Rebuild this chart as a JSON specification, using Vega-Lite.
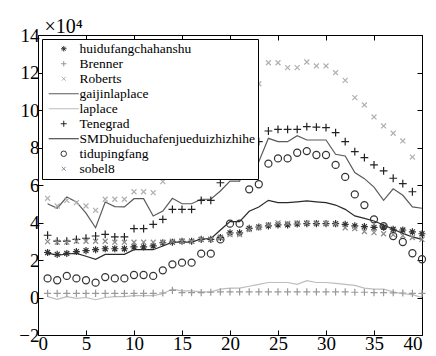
{
  "$schema": "https://vega.github.io/schema/vega-lite/v6.json",
  "autosize": "none",
  "width": 384,
  "height": 300,
  "padding": {"left": 38, "top": 35, "right": 14, "bottom": 21},
  "background": "white",
  "config": {
    "view": {"stroke": "black", "strokeWidth": 1},
    "axis": {
      "labelFont": "Times New Roman", "labelFontSize": 19, "labelColor": "black",
      "tickColor": "black", "tickSize": -5, "domainColor": "black", "grid": false,
      "titleFont": "Times New Roman", "titleFontWeight": "normal", "titleColor": "black"
    },
    "legend": {
      "orient": "none", "legendX": 4, "legendY": 4,
      "fillColor": "white", "strokeColor": "black", "padding": 3,
      "labelFont": "Times New Roman", "labelFontSize": 13.5, "labelColor": "black", "labelLimit": 400,
      "symbolSize": 30, "symbolStrokeWidth": 1, "rowPadding": 0,
      "symbolOffset": 12, "labelOffset": 9
    }
  },
  "datasets": {
    "d": [
      {"s":"huidufangchahanshu","x":1,"y":2.4},{"s":"huidufangchahanshu","x":2,"y":2.3},{"s":"huidufangchahanshu","x":3,"y":2.35},{"s":"huidufangchahanshu","x":4,"y":2.45},{"s":"huidufangchahanshu","x":5,"y":2.5},{"s":"huidufangchahanshu","x":6,"y":2.55},{"s":"huidufangchahanshu","x":7,"y":2.6},{"s":"huidufangchahanshu","x":8,"y":2.6},{"s":"huidufangchahanshu","x":9,"y":2.6},{"s":"huidufangchahanshu","x":10,"y":2.7},
      {"s":"huidufangchahanshu","x":11,"y":2.7},{"s":"huidufangchahanshu","x":12,"y":2.75},{"s":"huidufangchahanshu","x":13,"y":2.92},{"s":"huidufangchahanshu","x":14,"y":2.95},{"s":"huidufangchahanshu","x":15,"y":3.0},{"s":"huidufangchahanshu","x":16,"y":3.0},{"s":"huidufangchahanshu","x":17,"y":3.1},{"s":"huidufangchahanshu","x":18,"y":3.1},{"s":"huidufangchahanshu","x":19,"y":3.2},{"s":"huidufangchahanshu","x":20,"y":3.45},
      {"s":"huidufangchahanshu","x":21,"y":3.45},{"s":"huidufangchahanshu","x":22,"y":3.69},{"s":"huidufangchahanshu","x":23,"y":3.76},{"s":"huidufangchahanshu","x":24,"y":3.82},{"s":"huidufangchahanshu","x":25,"y":3.87},{"s":"huidufangchahanshu","x":26,"y":3.87},{"s":"huidufangchahanshu","x":27,"y":3.92},{"s":"huidufangchahanshu","x":28,"y":3.94},{"s":"huidufangchahanshu","x":29,"y":3.94},{"s":"huidufangchahanshu","x":30,"y":3.94},
      {"s":"huidufangchahanshu","x":31,"y":3.94},{"s":"huidufangchahanshu","x":32,"y":3.9},{"s":"huidufangchahanshu","x":33,"y":3.82},{"s":"huidufangchahanshu","x":34,"y":3.78},{"s":"huidufangchahanshu","x":35,"y":3.74},{"s":"huidufangchahanshu","x":36,"y":3.75},{"s":"huidufangchahanshu","x":37,"y":3.64},{"s":"huidufangchahanshu","x":38,"y":3.6},{"s":"huidufangchahanshu","x":39,"y":3.5},{"s":"huidufangchahanshu","x":40,"y":3.4},

      {"s":"Brenner","x":1,"y":0.22},{"s":"Brenner","x":2,"y":0.22},{"s":"Brenner","x":3,"y":0.22},{"s":"Brenner","x":4,"y":0.22},{"s":"Brenner","x":5,"y":0.22},{"s":"Brenner","x":6,"y":0.22},{"s":"Brenner","x":7,"y":0.22},{"s":"Brenner","x":8,"y":0.22},{"s":"Brenner","x":9,"y":0.22},{"s":"Brenner","x":10,"y":0.22},
      {"s":"Brenner","x":11,"y":0.22},{"s":"Brenner","x":12,"y":0.22},{"s":"Brenner","x":13,"y":0.24},{"s":"Brenner","x":14,"y":0.38},{"s":"Brenner","x":15,"y":0.26},{"s":"Brenner","x":16,"y":0.26},{"s":"Brenner","x":17,"y":0.26},{"s":"Brenner","x":18,"y":0.28},{"s":"Brenner","x":19,"y":0.3},{"s":"Brenner","x":20,"y":0.3},
      {"s":"Brenner","x":21,"y":0.3},{"s":"Brenner","x":22,"y":0.3},{"s":"Brenner","x":23,"y":0.3},{"s":"Brenner","x":24,"y":0.3},{"s":"Brenner","x":25,"y":0.3},{"s":"Brenner","x":26,"y":0.3},{"s":"Brenner","x":27,"y":0.3},{"s":"Brenner","x":28,"y":0.3},{"s":"Brenner","x":29,"y":0.3},{"s":"Brenner","x":30,"y":0.3},
      {"s":"Brenner","x":31,"y":0.3},{"s":"Brenner","x":32,"y":0.3},{"s":"Brenner","x":33,"y":0.28},{"s":"Brenner","x":34,"y":0.28},{"s":"Brenner","x":35,"y":0.26},{"s":"Brenner","x":36,"y":0.26},{"s":"Brenner","x":37,"y":0.25},{"s":"Brenner","x":38,"y":0.24},{"s":"Brenner","x":39,"y":0.22},{"s":"Brenner","x":40,"y":0.22},

      {"s":"Roberts","x":1,"y":5.29},{"s":"Roberts","x":2,"y":4.88},{"s":"Roberts","x":3,"y":5.18},{"s":"Roberts","x":4,"y":5.06},{"s":"Roberts","x":5,"y":4.88},{"s":"Roberts","x":6,"y":4.65},{"s":"Roberts","x":7,"y":5.24},{"s":"Roberts","x":8,"y":5.24},{"s":"Roberts","x":9,"y":5.24},{"s":"Roberts","x":10,"y":5.64},
      {"s":"Roberts","x":11,"y":5.64},{"s":"Roberts","x":12,"y":5.59},{"s":"Roberts","x":13,"y":6.18},{"s":"Roberts","x":14,"y":6.84},{"s":"Roberts","x":15,"y":6.6},{"s":"Roberts","x":16,"y":6.6},{"s":"Roberts","x":17,"y":7.2},{"s":"Roberts","x":18,"y":7.32},{"s":"Roberts","x":19,"y":8.35},{"s":"Roberts","x":20,"y":9.38},
      {"s":"Roberts","x":21,"y":9.38},{"s":"Roberts","x":22,"y":11.05},{"s":"Roberts","x":23,"y":11.4},{"s":"Roberts","x":24,"y":12.52},{"s":"Roberts","x":25,"y":12.52},{"s":"Roberts","x":26,"y":12.26},{"s":"Roberts","x":27,"y":12.26},{"s":"Roberts","x":28,"y":12.56},{"s":"Roberts","x":29,"y":12.35},{"s":"Roberts","x":30,"y":12.35},
      {"s":"Roberts","x":31,"y":11.99},{"s":"Roberts","x":32,"y":11.58},{"s":"Roberts","x":33,"y":10.66},{"s":"Roberts","x":34,"y":10.27},{"s":"Roberts","x":35,"y":9.63},{"s":"Roberts","x":36,"y":9.15},{"s":"Roberts","x":37,"y":8.76},{"s":"Roberts","x":38,"y":8.35},{"s":"Roberts","x":39,"y":7.49},

      {"s":"gaijinlaplace","x":1,"y":5.0},{"s":"gaijinlaplace","x":2,"y":4.76},{"s":"gaijinlaplace","x":3,"y":5.36},{"s":"gaijinlaplace","x":4,"y":5.1},{"s":"gaijinlaplace","x":5,"y":4.5},{"s":"gaijinlaplace","x":6,"y":3.72},{"s":"gaijinlaplace","x":7,"y":5.09},{"s":"gaijinlaplace","x":8,"y":4.85},{"s":"gaijinlaplace","x":9,"y":4.83},{"s":"gaijinlaplace","x":10,"y":5.27},
      {"s":"gaijinlaplace","x":11,"y":5.27},{"s":"gaijinlaplace","x":12,"y":4.35},{"s":"gaijinlaplace","x":13,"y":4.61},{"s":"gaijinlaplace","x":14,"y":5.29},{"s":"gaijinlaplace","x":15,"y":5.0},{"s":"gaijinlaplace","x":16,"y":5.0},{"s":"gaijinlaplace","x":17,"y":5.24},{"s":"gaijinlaplace","x":18,"y":5.24},{"s":"gaijinlaplace","x":19,"y":5.68},{"s":"gaijinlaplace","x":20,"y":6.21},
      {"s":"gaijinlaplace","x":21,"y":6.21},{"s":"gaijinlaplace","x":22,"y":7.46},{"s":"gaijinlaplace","x":23,"y":7.24},{"s":"gaijinlaplace","x":24,"y":8.49},{"s":"gaijinlaplace","x":25,"y":8.31},{"s":"gaijinlaplace","x":26,"y":8.31},{"s":"gaijinlaplace","x":27,"y":8.63},{"s":"gaijinlaplace","x":28,"y":8.4},{"s":"gaijinlaplace","x":29,"y":8.4},{"s":"gaijinlaplace","x":30,"y":8.4},
      {"s":"gaijinlaplace","x":31,"y":7.64},{"s":"gaijinlaplace","x":32,"y":7.55},{"s":"gaijinlaplace","x":33,"y":6.66},{"s":"gaijinlaplace","x":34,"y":6.34},{"s":"gaijinlaplace","x":35,"y":5.89},{"s":"gaijinlaplace","x":36,"y":5.18},{"s":"gaijinlaplace","x":37,"y":5.8},{"s":"gaijinlaplace","x":38,"y":5.45},{"s":"gaijinlaplace","x":39,"y":4.83},{"s":"gaijinlaplace","x":40,"y":4.76},

      {"s":"laplace","x":1,"y":0.05},{"s":"laplace","x":2,"y":-0.1},{"s":"laplace","x":3,"y":0.05},{"s":"laplace","x":4,"y":-0.05},{"s":"laplace","x":5,"y":0.0},{"s":"laplace","x":6,"y":-0.12},{"s":"laplace","x":7,"y":0.0},{"s":"laplace","x":8,"y":0.05},{"s":"laplace","x":9,"y":0.05},{"s":"laplace","x":10,"y":0.1},
      {"s":"laplace","x":11,"y":0.1},{"s":"laplace","x":12,"y":0.1},{"s":"laplace","x":13,"y":0.2},{"s":"laplace","x":14,"y":0.45},{"s":"laplace","x":15,"y":0.35},{"s":"laplace","x":16,"y":0.35},{"s":"laplace","x":17,"y":0.3},{"s":"laplace","x":18,"y":0.3},{"s":"laplace","x":19,"y":0.45},{"s":"laplace","x":20,"y":0.5},
      {"s":"laplace","x":21,"y":0.5},{"s":"laplace","x":22,"y":0.6},{"s":"laplace","x":23,"y":0.7},{"s":"laplace","x":24,"y":0.8},{"s":"laplace","x":25,"y":0.8},{"s":"laplace","x":26,"y":0.8},{"s":"laplace","x":27,"y":0.7},{"s":"laplace","x":28,"y":0.9},{"s":"laplace","x":29,"y":0.8},{"s":"laplace","x":30,"y":0.8},
      {"s":"laplace","x":31,"y":0.75},{"s":"laplace","x":32,"y":0.7},{"s":"laplace","x":33,"y":0.65},{"s":"laplace","x":34,"y":0.5},{"s":"laplace","x":35,"y":0.45},{"s":"laplace","x":36,"y":0.45},{"s":"laplace","x":37,"y":0.3},{"s":"laplace","x":38,"y":0.2},{"s":"laplace","x":39,"y":0.15},{"s":"laplace","x":40,"y":0.0},

      {"s":"Tenegrad","x":1,"y":3.32},{"s":"Tenegrad","x":2,"y":3.01},{"s":"Tenegrad","x":3,"y":3.01},{"s":"Tenegrad","x":4,"y":3.1},{"s":"Tenegrad","x":5,"y":3.16},{"s":"Tenegrad","x":6,"y":3.28},{"s":"Tenegrad","x":7,"y":3.37},{"s":"Tenegrad","x":8,"y":3.23},{"s":"Tenegrad","x":9,"y":3.23},{"s":"Tenegrad","x":10,"y":3.67},
      {"s":"Tenegrad","x":11,"y":3.67},{"s":"Tenegrad","x":12,"y":3.9},{"s":"Tenegrad","x":13,"y":4.17},{"s":"Tenegrad","x":14,"y":4.7},{"s":"Tenegrad","x":15,"y":4.7},{"s":"Tenegrad","x":16,"y":4.7},{"s":"Tenegrad","x":17,"y":5.18},{"s":"Tenegrad","x":18,"y":5.18},{"s":"Tenegrad","x":19,"y":6.12},{"s":"Tenegrad","x":20,"y":6.75},
      {"s":"Tenegrad","x":21,"y":6.75},{"s":"Tenegrad","x":22,"y":7.85},{"s":"Tenegrad","x":23,"y":8.31},{"s":"Tenegrad","x":24,"y":8.88},{"s":"Tenegrad","x":25,"y":8.97},{"s":"Tenegrad","x":26,"y":8.97},{"s":"Tenegrad","x":27,"y":8.97},{"s":"Tenegrad","x":28,"y":9.11},{"s":"Tenegrad","x":29,"y":9.09},{"s":"Tenegrad","x":30,"y":9.06},
      {"s":"Tenegrad","x":31,"y":8.79},{"s":"Tenegrad","x":32,"y":8.31},{"s":"Tenegrad","x":33,"y":7.78},{"s":"Tenegrad","x":34,"y":7.46},{"s":"Tenegrad","x":35,"y":7.07},{"s":"Tenegrad","x":36,"y":6.75},{"s":"Tenegrad","x":37,"y":6.36},{"s":"Tenegrad","x":38,"y":6.07},{"s":"Tenegrad","x":39,"y":5.64},

      {"s":"SMDhuiduchafenjueduizhizhihe","x":1,"y":2.38},{"s":"SMDhuiduchafenjueduizhizhihe","x":2,"y":2.25},{"s":"SMDhuiduchafenjueduizhizhihe","x":3,"y":2.32},{"s":"SMDhuiduchafenjueduizhizhihe","x":4,"y":2.35},{"s":"SMDhuiduchafenjueduizhizhihe","x":5,"y":2.2},{"s":"SMDhuiduchafenjueduizhizhihe","x":6,"y":2.04},{"s":"SMDhuiduchafenjueduizhizhihe","x":7,"y":2.3},{"s":"SMDhuiduchafenjueduizhizhihe","x":8,"y":2.3},{"s":"SMDhuiduchafenjueduizhizhihe","x":9,"y":2.3},{"s":"SMDhuiduchafenjueduizhizhihe","x":10,"y":2.55},
      {"s":"SMDhuiduchafenjueduizhizhihe","x":11,"y":2.55},{"s":"SMDhuiduchafenjueduizhizhihe","x":12,"y":2.55},{"s":"SMDhuiduchafenjueduizhizhihe","x":13,"y":2.75},{"s":"SMDhuiduchafenjueduizhizhihe","x":14,"y":2.95},{"s":"SMDhuiduchafenjueduizhizhihe","x":15,"y":2.95},{"s":"SMDhuiduchafenjueduizhizhihe","x":16,"y":2.95},{"s":"SMDhuiduchafenjueduizhizhihe","x":17,"y":3.12},{"s":"SMDhuiduchafenjueduizhizhihe","x":18,"y":3.14},{"s":"SMDhuiduchafenjueduizhizhihe","x":19,"y":3.6},{"s":"SMDhuiduchafenjueduizhizhihe","x":20,"y":4.05},
      {"s":"SMDhuiduchafenjueduizhizhihe","x":21,"y":4.05},{"s":"SMDhuiduchafenjueduizhizhihe","x":22,"y":4.6},{"s":"SMDhuiduchafenjueduizhizhihe","x":23,"y":4.83},{"s":"SMDhuiduchafenjueduizhizhihe","x":24,"y":5.18},{"s":"SMDhuiduchafenjueduizhizhihe","x":25,"y":5.06},{"s":"SMDhuiduchafenjueduizhizhihe","x":26,"y":5.06},{"s":"SMDhuiduchafenjueduizhizhihe","x":27,"y":5.1},{"s":"SMDhuiduchafenjueduizhizhihe","x":28,"y":5.15},{"s":"SMDhuiduchafenjueduizhizhihe","x":29,"y":5.1},{"s":"SMDhuiduchafenjueduizhizhihe","x":30,"y":5.06},
      {"s":"SMDhuiduchafenjueduizhizhihe","x":31,"y":4.93},{"s":"SMDhuiduchafenjueduizhizhihe","x":32,"y":4.7},{"s":"SMDhuiduchafenjueduizhizhihe","x":33,"y":4.35},{"s":"SMDhuiduchafenjueduizhizhihe","x":34,"y":4.22},{"s":"SMDhuiduchafenjueduizhizhihe","x":35,"y":4.08},{"s":"SMDhuiduchafenjueduizhizhihe","x":36,"y":3.87},{"s":"SMDhuiduchafenjueduizhizhihe","x":37,"y":3.64},{"s":"SMDhuiduchafenjueduizhizhihe","x":38,"y":3.42},{"s":"SMDhuiduchafenjueduizhizhihe","x":39,"y":3.23},{"s":"SMDhuiduchafenjueduizhizhihe","x":40,"y":3.1},

      {"s":"tidupingfang","x":1,"y":1.02},{"s":"tidupingfang","x":2,"y":0.92},{"s":"tidupingfang","x":3,"y":1.15},{"s":"tidupingfang","x":4,"y":1.02},{"s":"tidupingfang","x":5,"y":0.92},{"s":"tidupingfang","x":6,"y":0.79},{"s":"tidupingfang","x":7,"y":1.09},{"s":"tidupingfang","x":8,"y":1.02},{"s":"tidupingfang","x":9,"y":1.02},{"s":"tidupingfang","x":10,"y":1.2},
      {"s":"tidupingfang","x":11,"y":1.2},{"s":"tidupingfang","x":12,"y":1.15},{"s":"tidupingfang","x":13,"y":1.45},{"s":"tidupingfang","x":14,"y":1.77},{"s":"tidupingfang","x":15,"y":1.86},{"s":"tidupingfang","x":16,"y":1.86},{"s":"tidupingfang","x":17,"y":2.34},{"s":"tidupingfang","x":18,"y":2.34},{"s":"tidupingfang","x":19,"y":3.1},{"s":"tidupingfang","x":20,"y":3.94},
      {"s":"tidupingfang","x":21,"y":3.94},{"s":"tidupingfang","x":22,"y":5.77},{"s":"tidupingfang","x":23,"y":6.04},{"s":"tidupingfang","x":24,"y":7.14},{"s":"tidupingfang","x":25,"y":7.42},{"s":"tidupingfang","x":26,"y":7.42},{"s":"tidupingfang","x":27,"y":7.72},{"s":"tidupingfang","x":28,"y":7.81},{"s":"tidupingfang","x":29,"y":7.6},{"s":"tidupingfang","x":30,"y":7.6},
      {"s":"tidupingfang","x":31,"y":7.07},{"s":"tidupingfang","x":32,"y":6.43},{"s":"tidupingfang","x":33,"y":5.5},{"s":"tidupingfang","x":34,"y":4.93},{"s":"tidupingfang","x":35,"y":4.17},{"s":"tidupingfang","x":36,"y":3.81},{"s":"tidupingfang","x":37,"y":3.28},{"s":"tidupingfang","x":38,"y":2.96},{"s":"tidupingfang","x":39,"y":2.36},{"s":"tidupingfang","x":40,"y":2.04},

      {"s":"sobel8","x":1,"y":2.98},{"s":"sobel8","x":2,"y":2.95},{"s":"sobel8","x":3,"y":2.95},{"s":"sobel8","x":4,"y":3.0},{"s":"sobel8","x":5,"y":3.0},{"s":"sobel8","x":6,"y":3.0},{"s":"sobel8","x":7,"y":3.0},{"s":"sobel8","x":8,"y":2.95},{"s":"sobel8","x":9,"y":2.95},{"s":"sobel8","x":10,"y":2.95},
      {"s":"sobel8","x":11,"y":2.95},{"s":"sobel8","x":12,"y":2.95},{"s":"sobel8","x":13,"y":2.95},{"s":"sobel8","x":14,"y":3.0},{"s":"sobel8","x":15,"y":3.0},{"s":"sobel8","x":16,"y":3.0},{"s":"sobel8","x":17,"y":3.1},{"s":"sobel8","x":18,"y":3.1},{"s":"sobel8","x":19,"y":3.2},{"s":"sobel8","x":20,"y":3.35},
      {"s":"sobel8","x":21,"y":3.35},{"s":"sobel8","x":22,"y":3.62},{"s":"sobel8","x":23,"y":3.72},{"s":"sobel8","x":24,"y":3.88},{"s":"sobel8","x":25,"y":3.98},{"s":"sobel8","x":26,"y":3.95},{"s":"sobel8","x":27,"y":3.98},{"s":"sobel8","x":28,"y":3.98},{"s":"sobel8","x":29,"y":3.98},{"s":"sobel8","x":30,"y":3.96},
      {"s":"sobel8","x":31,"y":3.9},{"s":"sobel8","x":32,"y":3.72},{"s":"sobel8","x":33,"y":3.68},{"s":"sobel8","x":34,"y":3.52},{"s":"sobel8","x":35,"y":3.46},{"s":"sobel8","x":36,"y":3.4},{"s":"sobel8","x":37,"y":3.35},{"s":"sobel8","x":38,"y":3.3},{"s":"sobel8","x":39,"y":3.2},{"s":"sobel8","x":40,"y":3.1}
    ]
  },
  "data": {"name": "d"},
  "resolve": {"axis": {"x": "independent", "y": "independent"}},
  "layer": [
    {
      "transform": [{"filter": "datum.s === 'gaijinlaplace'"}],
      "mark": {"type": "line", "color": "#5a5a5a", "strokeWidth": 1.2},
      "encoding": {
        "x": {"field": "x", "type": "quantitative", "scale": {"domain": [0, 40], "nice": false},
          "axis": {"values": [0,5,10,15,20,25,30,35,40], "labelPadding": 4, "title": null, "domain": false,
            "labelFont": "Times New Roman", "labelFontSize": 19}},
        "y": {"field": "y", "type": "quantitative", "scale": {"domain": [-2, 14], "nice": false, "zero": false},
          "axis": {"values": [-2,0,2,4,6,8,10,12,14], "labelPadding": 4, "domain": false,
            "labelFont": "Times New Roman", "labelFontSize": 19,
            "title": "×10⁴", "titleFont": "Times New Roman", "titleAngle": 0, "titleAlign": "left", "titleBaseline": "alphabetic",
            "titleX": 6, "titleY": -3, "titleFontSize": 20}}
      }
    },
    {
      "transform": [{"filter": "datum.s === 'laplace'"}],
      "mark": {"type": "line", "color": "#bdbdbd", "strokeWidth": 1.2},
      "encoding": {
        "x": {"field": "x", "type": "quantitative",
          "axis": {"orient": "top", "values": [0,5,10,15,20,25,30,35,40], "labels": false, "title": null, "domain": false}},
        "y": {"field": "y", "type": "quantitative",
          "axis": {"orient": "right", "values": [-2,0,2,4,6,8,10,12,14], "labels": false, "title": null, "domain": false}}
      }
    },
    {
      "transform": [{"filter": "datum.s === 'SMDhuiduchafenjueduizhizhihe'"}],
      "mark": {"type": "line", "color": "#2a2a2a", "strokeWidth": 1.2},
      "encoding": {
        "x": {"field": "x", "type": "quantitative", "axis": null},
        "y": {"field": "y", "type": "quantitative", "axis": null}
      }
    },
    {
      "transform": [{"filter": "datum.s !== 'gaijinlaplace' && datum.s !== 'laplace' && datum.s !== 'SMDhuiduchafenjueduizhizhihe'"}],
      "mark": {"type": "point", "filled": false, "size": 50, "strokeWidth": 1.2, "opacity": 1},
      "encoding": {
        "x": {"field": "x", "type": "quantitative", "axis": null},
        "y": {"field": "y", "type": "quantitative", "axis": null},
        "color": {"field": "s", "type": "nominal",
          "scale": {
            "domain": ["huidufangchahanshu","Brenner","Roberts","gaijinlaplace","laplace","Tenegrad","SMDhuiduchafenjueduizhizhihe","tidupingfang","sobel8"],
            "range": ["#333333","#999999","#b0b0b0","#5a5a5a","#bdbdbd","#222222","#2a2a2a","#333333","#8a8a8a"]
          },
          "legend": {"title": null}
        },
        "shape": {"field": "s", "type": "nominal",
          "scale": {
            "domain": ["huidufangchahanshu","Brenner","Roberts","gaijinlaplace","laplace","Tenegrad","SMDhuiduchafenjueduizhizhihe","tidupingfang","sobel8"],
            "range": [
              "M-1,0L1,0M0,-1L0,1M-0.7,-0.7L0.7,0.7M-0.7,0.7L0.7,-0.7",
              "M-1,0L1,0M0,-1L0,1",
              "M-0.7,-0.7L0.7,0.7M-0.7,0.7L0.7,-0.7",
              "M-5.5,0L5.5,0",
              "M-5.5,0L5.5,0",
              "M-1.1,0L1.1,0M0,-1.1L0,1.1",
              "M-5.5,0L5.5,0",
              "circle",
              "M-0.7,-0.7L0.7,0.7M-0.7,0.7L0.7,-0.7"
            ]
          },
          "legend": {"title": null}
        }
      }
    }
  ]
}
